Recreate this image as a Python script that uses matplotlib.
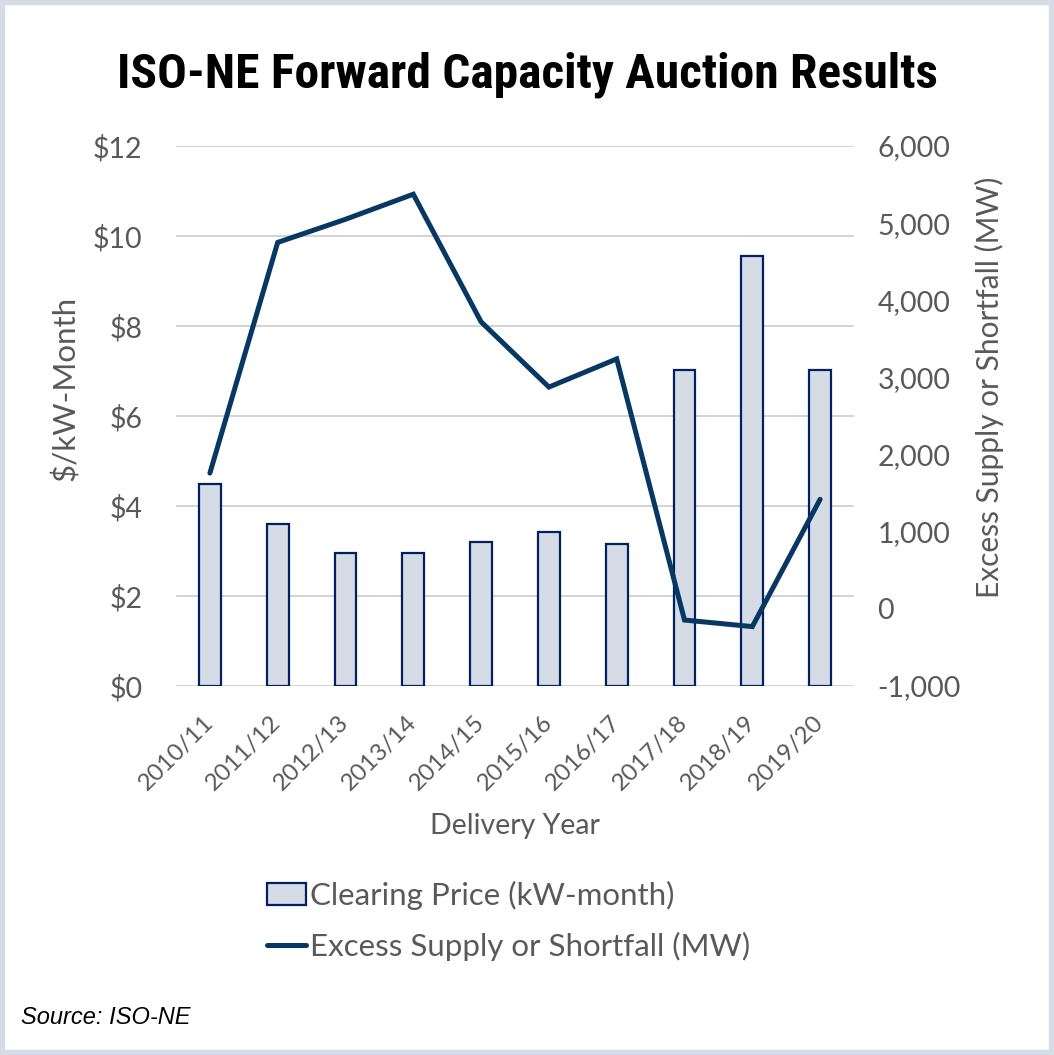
import numpy as np
import matplotlib
matplotlib.use('Agg')
from matplotlib import pyplot as plt
from matplotlib import font_manager
from matplotlib.patches import Rectangle, Patch
from matplotlib.lines import Line2D
from matplotlib.ticker import FuncFormatter

# Data
years = ['2010/11', '2011/12', '2012/13', '2013/14', '2014/15',
         '2015/16', '2016/17', '2017/18', '2018/19', '2019/20']
clearing_price = [4.50, 3.60, 2.95, 2.95, 3.21, 3.43, 3.15, 7.03, 9.55, 7.03]
excess_mw = [1760, 4750, 5050, 5375, 3720, 2875, 3240, -145, -230, 1420]

price_ticks = [0, 2, 4, 6, 8, 10, 12]
mw_ticks = [-1000, 0, 1000, 2000, 3000, 4000, 5000, 6000]

text_gray = '#595959'
bar_fill = '#D6DCE5'
bar_edge = '#002060'
line_col = '#073763'
grid_col = '#D0D0D0'

plt.rcParams['font.family'] = ['Lato', 'DejaVu Sans']


def _weight(f):
    w = f.weight
    if isinstance(w, str):
        w = font_manager.weight_dict.get(w, 400)
    return w


# narrow bold face for the title (Arial Narrow look-alike)
bold_names = set(f.name for f in font_manager.fontManager.ttflist if _weight(f) >= 700)
title_font = 'Liberation Sans'
for fam in ['Liberation Sans Narrow', 'Arial Narrow', 'Archivo Narrow',
            'Roboto Condensed', 'Pragati Narrow', 'PT Sans Narrow',
            'Fira Sans Condensed', 'IBM Plex Sans Condensed', 'Asap Condensed',
            'Barlow Condensed']:
    if fam in bold_names:
        title_font = fam
        break

fig = plt.figure(figsize=(10.54, 10.55), dpi=100)
ax = fig.add_axes([176/1054, 1-686/1055, (854-176)/1054, (686-146)/1055])
ax2 = ax.twinx()

x = np.arange(len(years))
ax.bar(x, clearing_price, width=0.32, color=bar_fill, edgecolor=bar_edge,
       linewidth=1.6, zorder=2)
ax2.plot(x, excess_mw, color=line_col, linewidth=3.6, solid_capstyle='round',
         solid_joinstyle='miter', zorder=3)

ax.set_xlim(-0.5, len(years)-0.5)
ax.set_ylim(0, 12)
ax2.set_ylim(-1000, 6000)
ax.set_yticks(price_ticks)
ax2.set_yticks(mw_ticks)
ax.yaxis.set_major_formatter(FuncFormatter(lambda v, p: '${:.0f}'.format(v)))
ax2.yaxis.set_major_formatter(FuncFormatter(lambda v, p: '{:,.0f}'.format(v)))

ax.grid(axis='y', color=grid_col, linewidth=1.3, zorder=0)
ax.set_axisbelow(True)
for a in (ax, ax2):
    for s in a.spines.values():
        s.set_visible(False)
    a.tick_params(length=0, labelsize=20.5, labelcolor=text_gray)
ax.tick_params(axis='y', pad=24)
ax2.tick_params(axis='y', pad=17)

ax.set_xticks(x)
ax.set_xticklabels(years, rotation=45, ha='right', va='center',
                   rotation_mode='anchor')
ax.tick_params(axis='x', pad=24, labelsize=17.5)

ax.set_xlabel('Delivery Year', fontsize=20.5, color=text_gray, labelpad=13)
ax.set_ylabel('$/kW-Month', fontsize=22.5, color=text_gray)
ax.yaxis.set_label_coords(-(176-80)/678, (686-388)/540)
ax2.set_ylabel('Excess Supply or Shortfall (MW)', fontsize=21.5, color=text_gray)
ax2.yaxis.set_label_coords((975-176)/678, (686-387)/540)

title = fig.text(0.5, 1-75/1055, 'ISO-NE Forward Capacity Auction Results',
                 ha='center', va='center', fontsize=34, fontweight='bold',
                 family=[title_font, 'Liberation Sans'], color='black')
# fit the title to the width it has in the reference (~819 px)
renderer = fig.canvas.get_renderer()
w = title.get_window_extent(renderer).width
title.set_fontsize(34 * 819 / w)

handles = [Patch(facecolor=bar_fill, edgecolor=bar_edge, linewidth=1.6),
           Line2D([0], [0], color=line_col, linewidth=3.6, solid_capstyle='round')]
labels = ['Clearing Price (kW-month)', 'Excess Supply or Shortfall (MW)']
leg = fig.legend(handles, labels, loc='upper left',
                 bbox_to_anchor=(254/1054, 1-868/1055), frameon=False,
                 fontsize=22.5, labelcolor=text_gray, handlelength=1.25,
                 handletextpad=0.15, labelspacing=0.72, borderaxespad=0)

fig.text(21/1054, 1-1017/1055, 'Source: ISO-NE', ha='left', va='center',
         fontsize=17, style='italic', family=['Liberation Sans'], color='black')

# light frame round the whole picture
fig.patches.append(Rectangle((0, 0), 1, 1, transform=fig.transFigure,
                             fill=False, edgecolor=bar_fill, linewidth=7.5))

plt.savefig('out.png', dpi=100)
